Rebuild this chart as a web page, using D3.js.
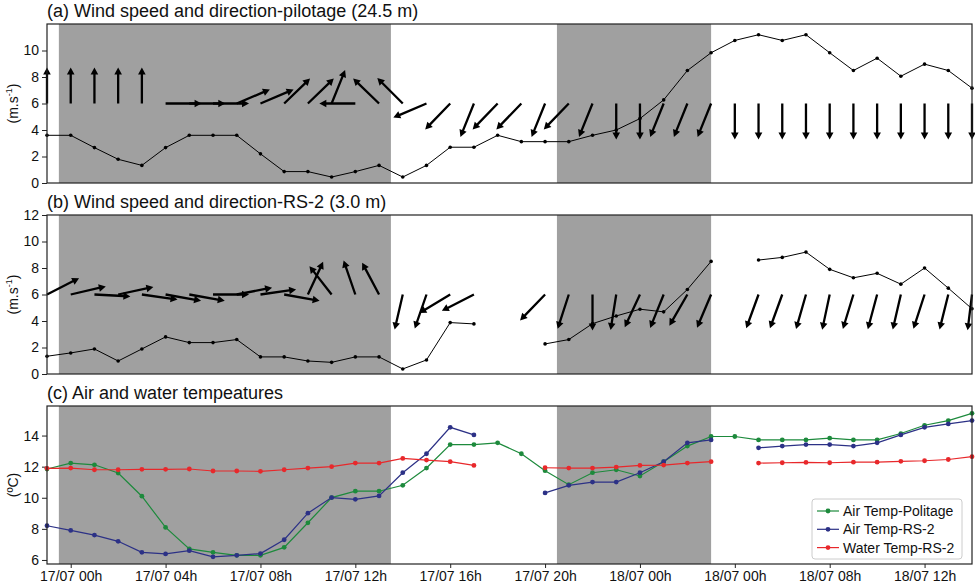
<!DOCTYPE html>
<html><head><meta charset="utf-8">
<script src="https://cdn.jsdelivr.net/npm/d3@7"></script>
<style>body{margin:0;background:#fff}svg{display:block;font-family:"Liberation Sans",Arial,sans-serif}</style>
</head><body><svg id="c" width="975" height="586"></svg>
<script>
// hours relative to 17/07 00h
const hours = [-1,0,1,2,3,4,5,6,7,8,9,10,11,12,13,14,15,16,17,18,19,20,21,22,23,24,25,26,27,28,29,30,31,32,33,34,35,36,37,38];
const tickHours = [0,4,8,12,16,20,24,28,32,36];
const tickLabels = ["17/07 00h","17/07 04h","17/07 08h","17/07 12h","17/07 16h","17/07 20h","18/07 00h","18/07 00h","18/07 08h","18/07 12h"];
const nightPeriods = [[-0.5, 13.5], [20.5, 27]];

// (a) pilotage wind speed (m/s) and direction arrow heading (deg clockwise from up)
const speedPilotage = [3.6,3.6,2.67,1.79,1.33,2.67,3.6,3.6,3.6,2.2,0.86,0.86,0.45,0.86,1.33,0.45,1.33,2.7,2.7,3.6,3.12,3.12,3.12,3.6,4.0,4.86,6.27,8.49,9.83,10.76,11.19,10.76,11.19,9.83,8.49,9.42,8.06,8.97,8.49,7.16];
const dirPilotage = [0,0,0,0,0,90,90,90,67,67,46,46,22,270,314,315,247,224,202,224,224,202,224,202,180,180,202,202,202,180,180,180,180,180,180,180,180,180,180,180];

// (b) RS-2 wind speed and direction
const speedRS2 = [1.34,1.59,1.89,0.98,1.89,2.8,2.37,2.37,2.6,1.29,1.29,0.98,0.88,1.29,1.29,0.38,1.06,3.88,3.78,null,null,2.27,2.6,3.8,4.38,4.89,4.69,6.38,8.5,null,8.6,8.8,9.2,7.9,7.26,7.6,6.78,8.0,6.48,4.92];
const dirRS2 = [63,77,93,78,98,100,100,90,79,82,100,25,322,341,332,193,199,239,243,null,null,224,198,180,189,205,202,210,203,null,200,200,196,192,197,195,193,198,194,187];

// (c) temperatures
const airTempPolitage = [11.85,12.23,12.12,11.59,10.1,8.09,6.71,6.49,6.3,6.3,6.81,8.39,10.01,10.42,10.42,10.8,11.91,13.42,13.42,13.53,12.83,11.74,10.84,11.61,11.8,11.4,12.32,13.32,13.94,13.94,13.72,13.72,13.72,13.83,13.72,13.72,14.13,14.66,14.96,15.43];
const airTempRS2 = [8.2,7.9,7.6,7.2,6.49,6.39,6.6,6.2,6.3,6.41,7.3,9.01,10.01,9.9,10.12,11.61,12.83,14.53,14.04,null,null,10.31,10.8,11.01,11.01,11.61,12.32,13.53,13.72,null,13.21,13.32,13.42,13.42,13.32,13.53,14.04,14.53,14.75,14.96];
const waterTempRS2 = [11.89,11.91,11.8,11.8,11.83,11.83,11.85,11.72,11.72,11.7,11.8,11.91,12.0,12.23,12.23,12.53,12.42,12.32,12.08,null,null,11.93,11.91,11.91,11.97,12.08,12.1,12.23,12.32,null,12.23,12.25,12.27,12.25,12.29,12.29,12.34,12.38,12.46,12.64];

const seriesNames = ["Air Temp-Politage","Air Temp-RS-2","Water Temp-RS-2"];
const seriesColors = ["#1d8a3c","#2c3186","#e8282b"];

const svg = d3.select("#c");
const X0 = 47, X1 = 972;
const x = d3.scaleLinear().domain([-1, 38]).range([X0, X1]);

const panels = [
  {title:"(a) Wind speed and direction-pilotage (24.5 m)", top:24, bottom:183, domain:[0,12], ticks:[0,2,4,6,8,10], ylab:"ms"},
  {title:"(b) Wind speed and direction-RS-2 (3.0 m)", top:215, bottom:374, domain:[0,12], ticks:[0,2,4,6,8,10,12], ylab:"ms"},
  {title:"(c) Air and water tempeatures", top:406, bottom:564, domain:[5.74,15.9], ticks:[6,8,10,12,14], ylab:"C"}
];

panels.forEach((p, i) => {
  const y = d3.scaleLinear().domain(p.domain).range([p.bottom, p.top]);
  p.y = y;
  const g = svg.append("g");
  // night shading
  g.selectAll("rect.night").data(nightPeriods).join("rect")
    .attr("x", d => x(d[0])).attr("width", d => x(d[1]) - x(d[0]))
    .attr("y", p.top).attr("height", p.bottom - p.top)
    .attr("fill", "#a0a0a0");
  // title
  svg.append("text").attr("x", 47).attr("y", p.top - 7)
    .attr("font-size", 18).attr("fill", "#111").text(p.title);
  // y axis
  const ax = svg.append("g").attr("transform", `translate(${X0},0)`)
    .call(d3.axisLeft(y).tickValues(p.ticks).tickSize(5).tickPadding(3).tickFormat(d3.format("d")));
  ax.select(".domain").remove();
  ax.selectAll("text").attr("font-size", 14).attr("fill", "#111").attr("font-family", "Liberation Sans, Arial, sans-serif");
  ax.selectAll("line").attr("stroke", "#222");
  // y label
  const yc = (p.top + p.bottom) / 2;
  const lab = svg.append("text").attr("transform", `translate(18,${yc}) rotate(-90)`)
    .attr("text-anchor", "middle").attr("font-size", 14).attr("fill", "#111");
  if (p.ylab === "ms") {
    lab.append("tspan").text("(m.s");
    lab.append("tspan").attr("font-size", 9).attr("dy", -6).text("-1");
    lab.append("tspan").attr("dy", 6).text(")");
  } else {
    lab.text("(ºC)");
  }
});

function drawArrows(p, dirs) {
  const L = 36, hl = 7, hw = 3.8, sw = 1.15;
  const shape = [[-sw,0],[sw,0],[sw,-L+hl],[hw,-L+hl],[0,-L],[-hw,-L+hl],[-sw,-L+hl]];
  const data = hours.map((h, i) => ({h, d: dirs[i]})).filter(e => e.d !== null);
  svg.append("g").selectAll("path").data(data).join("path")
    .attr("transform", e => `translate(${x(e.h)},${p.y(6)}) rotate(${e.d})`)
    .attr("d", d3.line()(shape) + "Z")
    .attr("fill", "#000");
}

function drawSpeed(p, vals) {
  const data = hours.map((h, i) => ({h, v: vals[i]}));
  const line = d3.line().defined(e => e.v !== null).x(e => x(e.h)).y(e => p.y(e.v));
  svg.append("path").datum(data).attr("d", line).attr("fill", "none").attr("stroke", "#000").attr("stroke-width", 1);
  svg.append("g").selectAll("circle").data(data.filter(e => e.v !== null)).join("circle")
    .attr("cx", e => x(e.h)).attr("cy", e => p.y(e.v)).attr("r", 1.8).attr("fill", "#000");
}

drawArrows(panels[0], dirPilotage);
drawSpeed(panels[0], speedPilotage);
drawArrows(panels[1], dirRS2);
drawSpeed(panels[1], speedRS2);

// panel c series (draw order: green, blue, red on top)
const pc = panels[2];
[waterTempRS2, airTempPolitage, airTempRS2].forEach(() => {});
const temps = [airTempPolitage, airTempRS2, waterTempRS2];
[0,1,2].forEach(k => {
  const data = hours.map((h, i) => ({h, v: temps[k][i]}));
  const line = d3.line().defined(e => e.v !== null).x(e => x(e.h)).y(e => pc.y(e.v));
  svg.append("path").datum(data).attr("d", line).attr("fill", "none")
    .attr("stroke", seriesColors[k]).attr("stroke-width", 1.2);
  svg.append("g").selectAll("circle").data(data.filter(e => e.v !== null)).join("circle")
    .attr("cx", e => x(e.h)).attr("cy", e => pc.y(e.v)).attr("r", 2.4).attr("fill", seriesColors[k]);
});

// x axis at bottom
const xa = svg.append("g").attr("transform", `translate(0,${pc.bottom})`)
  .call(d3.axisBottom(x).tickValues(tickHours).tickSize(4).tickPadding(3).tickFormat((d, i) => tickLabels[i]));
xa.select(".domain").remove();
xa.selectAll("text").attr("font-size", 14).attr("fill", "#111").attr("font-family", "Liberation Sans, Arial, sans-serif");
xa.selectAll("line").attr("stroke", "#222");

// frames
panels.forEach(p => {
  svg.append("rect").attr("x", X0).attr("y", p.top).attr("width", X1 - X0).attr("height", p.bottom - p.top)
    .attr("fill", "none").attr("stroke", "#222").attr("stroke-width", 1.2);
});

// legend
const lg = svg.append("g").attr("transform", "translate(812,499)");
lg.append("rect").attr("width", 150).attr("height", 60).attr("rx", 3)
  .attr("fill", "#fff").attr("stroke", "#ccc");
seriesNames.forEach((n, k) => {
  const yy = 12 + k * 18.3;
  lg.append("line").attr("x1", 5).attr("x2", 27).attr("y1", yy).attr("y2", yy)
    .attr("stroke", seriesColors[k]).attr("stroke-width", 1.2);
  lg.append("circle").attr("cx", 16).attr("cy", yy).attr("r", 2.4).attr("fill", seriesColors[k]);
  lg.append("text").attr("x", 31).attr("y", yy + 5).attr("font-size", 14).attr("fill", "#111").text(n);
});
</script></body></html>
